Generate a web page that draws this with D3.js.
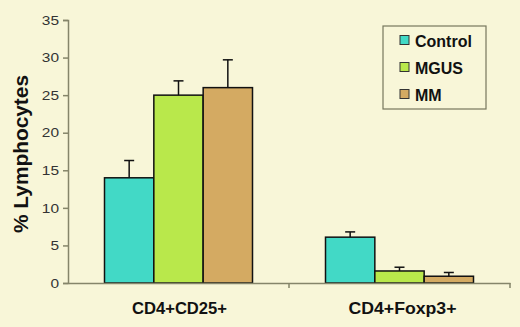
<!DOCTYPE html>
<html><head><meta charset="utf-8">
<script src="https://cdn.jsdelivr.net/npm/d3@7/dist/d3.min.js"></script>
<style>
html,body{margin:0;padding:0;background:#f8f6d8;}
svg{display:block;font-family:"Liberation Sans",Arial,sans-serif;}
</style></head>
<body>
<svg id="chart" width="520" height="327"></svg>
<script>
const categories = ["CD4+CD25+", "CD4+Foxp3+"];
const seriesNames = ["Control", "MGUS", "MM"];
const controlValues = [14.0, 6.1];
const controlErrors = [2.3, 0.7];
const mgusValues = [25.0, 1.6];
const mgusErrors = [1.9, 0.5];
const mmValues = [26.0, 0.9];
const mmErrors = [3.7, 0.5];
const yTicks = [0, 5, 10, 15, 20, 25, 30, 35];
const colors = ["#42d9c6", "#b9e84b", "#d4aa62"];

const series = [
  {name: seriesNames[0], values: controlValues, errors: controlErrors},
  {name: seriesNames[1], values: mgusValues, errors: mgusErrors},
  {name: seriesNames[2], values: mmValues, errors: mmErrors}
];

const svg = d3.select("#chart");
const mLeft = 68, mRight = 510, mTop = 20, mBottom = 283;

const x = d3.scaleBand().domain(categories).range([mLeft, mRight]).paddingInner(0).paddingOuter(0);
const y = d3.scaleLinear().domain([0, 35]).range([mBottom, mTop]);
const groupInner = 148;
const xs = d3.scaleBand().domain(seriesNames).range([0, groupInner]).padding(0);

// y axis
const yAxis = svg.append("g").attr("transform", `translate(${mLeft},0)`)
  .call(d3.axisLeft(y).tickValues(yTicks).tickSize(5).tickPadding(4));
yAxis.select(".domain").attr("stroke", "#85856a").attr("stroke-width", 1.5);
yAxis.selectAll(".tick line").attr("stroke", "#85856a").attr("stroke-width", 1.5);
yAxis.selectAll(".tick text").attr("fill", "#333").attr("font-size", 13).attr("font-family", "Liberation Sans, Arial")
  .attr("textLength", d => String(d).length * 8.6).attr("lengthAdjust", "spacingAndGlyphs");

// bars
series.forEach((s, si) => {
  categories.forEach((c, ci) => {
    const gx = x(c) + (x.bandwidth() - groupInner) / 2 + xs(s.name);
    const cx = gx + xs.bandwidth() / 2;
    const top = y(s.values[ci] + s.errors[ci]);
    svg.append("line").attr("x1", cx).attr("x2", cx)
      .attr("y1", y(s.values[ci])).attr("y2", top)
      .attr("stroke", "#111").attr("stroke-width", 1.5);
    svg.append("line").attr("x1", cx - 5).attr("x2", cx + 5)
      .attr("y1", top).attr("y2", top)
      .attr("stroke", "#111").attr("stroke-width", 1.5);
    svg.append("rect").attr("x", gx).attr("width", xs.bandwidth())
      .attr("y", y(s.values[ci])).attr("height", y(0) - y(s.values[ci]))
      .attr("fill", colors[si]).attr("stroke", "#111").attr("stroke-width", 1.5);
  });
});

// x axis
const xAxis = svg.append("g").attr("transform", `translate(0,${mBottom})`)
  .call(d3.axisBottom(x).tickSize(0).tickFormat(""));
xAxis.select(".domain").attr("stroke", "#85856a").attr("stroke-width", 1.5);
[x(categories[1]), mRight].forEach(px => {
  svg.append("line").attr("x1", px).attr("x2", px)
    .attr("y1", mBottom).attr("y2", mBottom + 5).attr("stroke", "#85856a").attr("stroke-width", 1.5);
});

// category labels
svg.append("g").selectAll("text").data(categories).join("text")
  .attr("x", (d, i) => x(d) + x.bandwidth() / 2 + (i ? 3 : 1))
  .attr("y", 314)
  .attr("text-anchor", "middle")
  .attr("font-weight", "bold").attr("font-size", 16.5).attr("fill", "#111")
  .attr("textLength", (d, i) => i ? 108 : 95).attr("lengthAdjust", "spacingAndGlyphs")
  .text(d => d);

// y label
svg.append("text")
  .attr("transform", "translate(28,154) rotate(-90)")
  .attr("text-anchor", "middle")
  .attr("font-weight", "bold").attr("font-size", 21).attr("fill", "#111")
  .attr("textLength", 158).attr("lengthAdjust", "spacingAndGlyphs")
  .text("% Lymphocytes");

// legend
const lg = svg.append("g");
lg.append("rect").attr("x", 383).attr("y", 26).attr("width", 103).attr("height", 83)
  .attr("fill", "#f8f6d8").attr("stroke", "#77775e").attr("stroke-width", 1.2);
seriesNames.forEach((n, i) => {
  const cy = 40 + i * 27;
  lg.append("rect").attr("x", 400).attr("y", cy - 4.5).attr("width", 9).attr("height", 9)
    .attr("fill", colors[i]).attr("stroke", "#333").attr("stroke-width", 1);
  lg.append("text").attr("x", 415).attr("y", cy + 6.5)
    .attr("font-weight", "bold").attr("font-size", 16).attr("fill", "#111").text(n);
});
</script>
</body></html>
